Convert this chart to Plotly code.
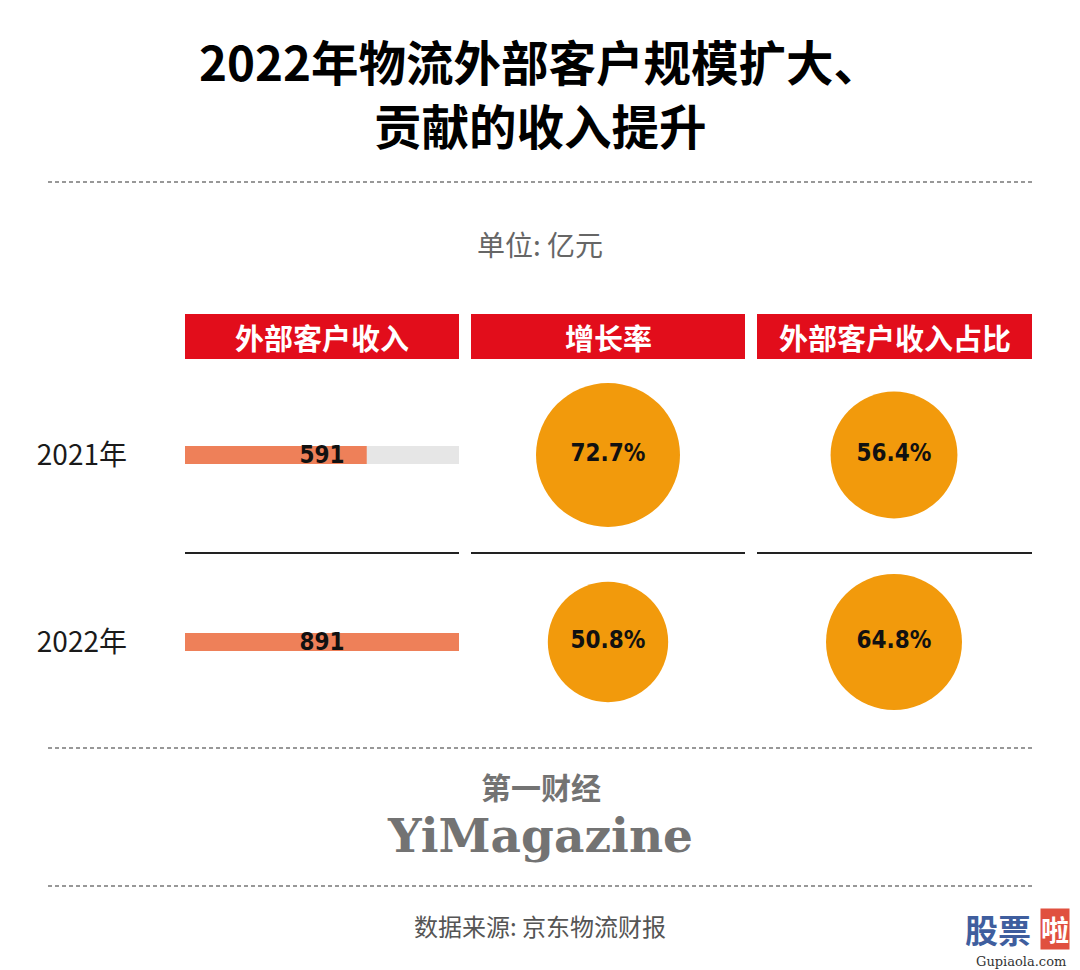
import plotly.graph_objects as go

# ---------------- data ----------------
years = ["2021年", "2022年"]
revenue = [591, 891]                 # 外部客户收入 (亿元)
growth = [72.7, 50.8]                # 增长率 (%)
share = [56.4, 64.8]                 # 外部客户收入占比 (%)
columns = ["外部客户收入", "增长率", "外部客户收入占比"]
title_lines = ["2022年物流外部客户规模扩大、", "贡献的收入提升"]
unit_text = "单位: 亿元"
source_text = "数据来源: 京东物流财报"
logo_cn = "第一财经"
logo_en = "YiMagazine"

# ---------------- style ----------------
OFF = 8                      # page body margin of the html page
W, H = 1080 - OFF, 970 - OFF
RED = "#E20D1B"
BAR_COLOR = "#EE8059"
TRACK_COLOR = "#E6E6E6"
CIRCLE_COLOR = "#F29A0C"
CJK = "Noto Sans CJK SC"
COND = "DejaVu Sans Condensed, Roboto, Noto Sans CJK SC"


def px(x):
    return (x - OFF) / W


def py(y):
    return 1 - (y - OFF) / H


fig = go.Figure()

bar_max = max(revenue)

# track (grey background)
fig.add_trace(go.Bar(
    y=years, x=[bar_max] * len(years), orientation="h",
    marker=dict(color=TRACK_COLOR, line=dict(width=0)), width=0.095,
    xaxis="x", yaxis="y", hoverinfo="skip", showlegend=False))
# value bars
fig.add_trace(go.Bar(
    y=years, x=revenue, orientation="h",
    marker=dict(color=BAR_COLOR, line=dict(width=0)), width=0.095,
    xaxis="x", yaxis="y", showlegend=False, name=columns[0]))
# value labels, centred on the track
fig.add_trace(go.Bar(
    y=years, x=[bar_max] * len(years), orientation="h",
    marker=dict(color="rgba(0,0,0,0)", line=dict(width=0)), width=0.095,
    text=[str(v) for v in revenue], textposition="inside",
    insidetextanchor="middle", constraintext="none",
    textfont=dict(family=COND, size=24, color="#111111", weight="bold"),
    xaxis="x", yaxis="y", hoverinfo="skip", showlegend=False))

# circles (area proportional to value); 72.7% -> 144 px diameter
sizeref = 2 * 72.7 / (144 ** 2)
for col, vals in [(columns[1], growth), (columns[2], share)]:
    fig.add_trace(go.Scatter(
        x=[col] * len(years), y=years, mode="markers+text",
        marker=dict(size=vals, sizemode="area", sizeref=sizeref,
                    color=CIRCLE_COLOR, line=dict(width=0), opacity=1),
        text=[f"{v:.1f}%" for v in vals], textposition="middle center",
        textfont=dict(family=COND, size=24, color="#111111", weight="bold"),
        xaxis="x2", yaxis="y", showlegend=False, name=col))

# y domain so that rows sit at y=455 and y=642 px
row1, row2 = 455, 642
half = (py(row1) - py(row2))
y_top = py(row1) + half / 2
y_bot = py(row2) - half / 2

fig.update_layout(
    width=W, height=H,
    margin=dict(l=0, r=0, t=0, b=0),
    paper_bgcolor="white", plot_bgcolor="rgba(0,0,0,0)",
    barmode="overlay",
    xaxis=dict(domain=[px(185), px(459)], range=[0, bar_max], visible=False,
               fixedrange=True),
    xaxis2=dict(domain=[px(465), px(1037)], range=[-0.5, 1.5], type="category",
                categoryorder="array", categoryarray=columns[1:], visible=False,
                anchor="y", fixedrange=True),
    yaxis=dict(domain=[y_bot, y_top], type="category", categoryorder="array",
               categoryarray=years, range=[1.5, -0.5], showgrid=False,
               zeroline=False, showline=False, ticks="",
               ticklabelstandoff=57,
               tickfont=dict(family=CJK, size=28, color="#1a1a1a"),
               fixedrange=True),
    font=dict(family=CJK),
)

shapes = []
annotations = []

# title
for i, line in enumerate(title_lines):
    annotations.append(dict(
        text=line, x=px(540), y=py(60 + i * 64), xref="paper", yref="paper",
        showarrow=False, xanchor="center", yanchor="middle",
        font=dict(family=CJK, size=47.5, color="#000000", weight="bold")))

# dashed rules
for yy in [182, 748, 886]:
    shapes.append(dict(type="line", xref="paper", yref="paper",
                       x0=px(48), x1=px(1032), y0=py(yy), y1=py(yy),
                       line=dict(color="#333333", width=1.2, dash="4px,3px")))

# unit
annotations.append(dict(
    text=unit_text, x=px(540), y=py(244), xref="paper", yref="paper",
    showarrow=False, xanchor="center", yanchor="middle",
    font=dict(family=CJK, size=28, color="#666666")))

# column headers + separators
col_x = [(185, 459), (471, 745), (757, 1032)]
for (x0, x1), name in zip(col_x, columns):
    shapes.append(dict(type="rect", xref="paper", yref="paper",
                       x0=px(x0), x1=px(x1), y0=py(359), y1=py(314),
                       fillcolor=RED, line=dict(width=0), layer="below"))
    annotations.append(dict(
        text=name, x=px((x0 + x1) / 2), y=py(336.5), xref="paper", yref="paper",
        showarrow=False, xanchor="center", yanchor="middle",
        font=dict(family=CJK, size=29, color="white", weight="bold")))
    shapes.append(dict(type="line", xref="paper", yref="paper",
                       x0=px(x0), x1=px(x1), y0=py(553), y1=py(553),
                       line=dict(color="#222222", width=2)))

# logo
annotations.append(dict(
    text=logo_cn, x=px(541), y=py(810), xref="paper", yref="paper",
    showarrow=False, xanchor="center", yanchor="bottom",
    font=dict(family=CJK, size=30, color="#737373", weight="bold")))
annotations.append(dict(
    text=logo_en, x=px(540), y=py(806), xref="paper", yref="paper",
    showarrow=False, xanchor="center", yanchor="top",
    font=dict(family="DejaVu Serif", size=47, color="#737373", weight="bold")))

# source
annotations.append(dict(
    text=source_text, x=px(540), y=py(925), xref="paper", yref="paper",
    showarrow=False, xanchor="center", yanchor="middle",
    font=dict(family=CJK, size=24, color="#555555")))

# watermark (bottom-right)
annotations.append(dict(
    text="股票", x=px(1033), y=py(929), xref="paper", yref="paper",
    showarrow=False, xanchor="right", yanchor="middle",
    font=dict(family=CJK, size=33, color="#3F5E9E", weight="bold")))
annotations.append(dict(
    text="啦", x=px(1055), y=py(929), xref="paper", yref="paper",
    showarrow=False, xanchor="center", yanchor="middle", bgcolor="#E0503F",
    borderpad=0,
    font=dict(family=CJK, size=28, color="white", weight="bold")))
annotations.append(dict(
    text="Gupiaola.com", x=px(1021), y=py(961), xref="paper", yref="paper",
    showarrow=False, xanchor="center", yanchor="middle",
    font=dict(family="DejaVu Serif", size=13, color="#333333")))

fig.update_layout(shapes=shapes, annotations=annotations)

fig.write_html("out.html")
